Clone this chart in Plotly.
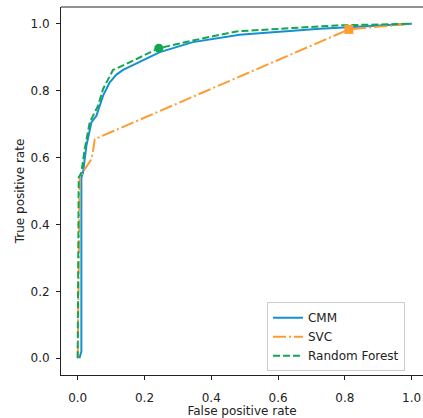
import plotly.graph_objects as go

# ROC curve data
cmm_fpr = [0.005, 0.011, 0.011, 0.016, 0.026, 0.041, 0.056, 0.076, 0.096, 0.116, 0.136, 0.186, 0.246, 0.345, 0.485, 0.524, 0.725, 0.823, 1.0]
cmm_tpr = [0.0, 0.02, 0.54, 0.555, 0.635, 0.705, 0.725, 0.785, 0.825, 0.848, 0.862, 0.885, 0.915, 0.945, 0.967, 0.97, 0.985, 0.99, 1.0]

svc_fpr = [0.0, 0.004, 0.006, 0.021, 0.041, 0.046, 0.051, 0.812, 1.0]
svc_tpr = [0.0, 0.53, 0.54, 0.565, 0.595, 0.62, 0.655, 0.983, 1.0]

rf_fpr = [0.0, 0.003, 0.011, 0.021, 0.036, 0.061, 0.076, 0.106, 0.146, 0.186, 0.243, 0.345, 0.475, 0.775, 0.975, 1.0]
rf_tpr = [0.0, 0.54, 0.555, 0.625, 0.705, 0.755, 0.805, 0.862, 0.88, 0.9, 0.927, 0.95, 0.977, 0.995, 1.0, 1.0]

svc_point = ([0.812], [0.983])
rf_point = ([0.243], [0.927])

x_ticks = [0.0, 0.2, 0.4, 0.6, 0.8, 1.0]
y_ticks = [0.0, 0.2, 0.4, 0.6, 0.8, 1.0]

BLUE = "#1490d0"
ORANGE = "#ff9b30"
GREEN = "#12a650"

fig = go.Figure()
fig.add_trace(go.Scatter(x=cmm_fpr, y=cmm_tpr, mode="lines", name="CMM",
                         line=dict(color=BLUE, width=2)))
fig.add_trace(go.Scatter(x=svc_fpr, y=svc_tpr, mode="lines", name="SVC",
                         line=dict(color=ORANGE, width=2, dash="13px,3px,2px,3px")))
fig.add_trace(go.Scatter(x=rf_fpr, y=rf_tpr, mode="lines", name="Random Forest",
                         line=dict(color=GREEN, width=2, dash="7px,3px")))
fig.add_trace(go.Scatter(x=svc_point[0], y=svc_point[1], mode="markers", showlegend=False,
                         marker=dict(color=ORANGE, size=9, symbol="square")))
fig.add_trace(go.Scatter(x=rf_point[0], y=rf_point[1], mode="markers", showlegend=False,
                         marker=dict(color=GREEN, size=9, symbol="circle")))

axis_font = dict(family="DejaVu Sans", size=12, color="#222")

fig.update_layout(
    width=423, height=418,
    margin=dict(l=61, r=0, t=7, b=43),
    paper_bgcolor="white", plot_bgcolor="white",
    font=axis_font,
    xaxis=dict(range=[-0.05, 1.034], tickvals=x_ticks, ticktext=[f"{v:.1f}" for v in x_ticks],
               showgrid=False, zeroline=False, showline=True, linecolor="#222", linewidth=1,
               ticks="outside", ticklen=4, tickcolor="#222", automargin=False,
               ticklabelstandoff=8,
               title=dict(text="False positive rate", font=axis_font, standoff=1)),
    yaxis=dict(range=[-0.05, 1.05], tickvals=y_ticks, ticktext=[f"{v:.1f}" for v in y_ticks],
               showgrid=False, zeroline=False, showline=True, linecolor="#222", linewidth=1,
               ticks="outside", ticklen=4, tickcolor="#222", automargin=False,
               ticklabelstandoff=4,
               title=dict(text="True positive rate", font=axis_font, standoff=3)),
    legend=dict(x=0.569, y=0.198, xanchor="left", yanchor="top",
                bordercolor="#cccccc", borderwidth=1, bgcolor="rgba(255,255,255,0.8)",
                font=dict(family="DejaVu Sans", size=12, color="#222"), tracegroupgap=0),
    shapes=[dict(type="line", xref="paper", yref="paper", x0=0, x1=1, y0=1, y1=1,
                 line=dict(color="#222", width=1))],
)

fig.write_html("out.html", config={"displayModeBar": False},
               post_script="document.body.style.margin='0';document.body.style.overflow='hidden';")
